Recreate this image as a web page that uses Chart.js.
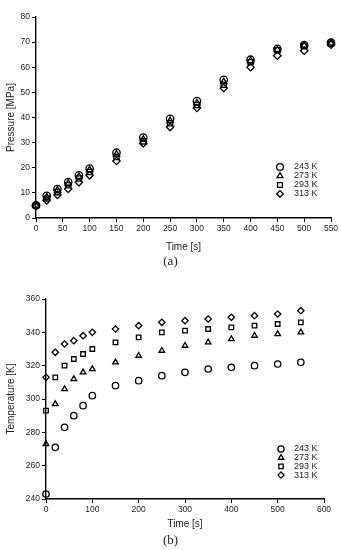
<!DOCTYPE html>
<html>
<head>
<meta charset="utf-8">
<script src="https://cdn.jsdelivr.net/npm/chart.js@4.4.0/dist/chart.umd.min.js"></script>
<style>
  body { margin: 0; background: #fff; width: 341px; height: 550px; position: relative; overflow: hidden; }
  .box { position: absolute; left: 0; width: 341px; }
  .cap { position: absolute; left: 0; width: 341px; text-align: center; font-family: "Liberation Serif", serif; font-size: 13px; color: #222; }
</style>
</head>
<body>
<div class="box" style="top:0;height:255px"><canvas id="chartA"></canvas></div>
<div class="cap" style="top:253px">(a)</div>
<div class="box" style="top:280px;height:252px"><canvas id="chartB"></canvas></div>
<div class="cap" style="top:532px">(b)</div>
<script>
// time points [s]
var time = [0, 20, 40, 60, 80, 100, 150, 200, 250, 300, 350, 400, 450, 500, 550];
var labels = ['243 K', '273 K', '293 K', '313 K'];
var styles = ['circle', 'triangle', 'rect', 'rectRot'];

// pressure [MPa]
var p243 = [5, 8.8, 11.5, 14.3, 17.0, 19.7, 26.0, 32.0, 39.5, 46.5, 55.0, 63.0, 67.3, 68.8, 69.8];
var p273 = [5, 8.3, 11.0, 13.8, 16.5, 19.2, 25.4, 31.3, 38.7, 45.8, 54.2, 62.6, 67.0, 68.6, 69.6];
var p293 = [5, 7.8, 10.3, 13.0, 15.7, 18.3, 24.3, 30.5, 37.7, 45.0, 53.0, 62.0, 66.8, 68.6, 69.4];
var p313 = [5, 7.0, 9.2, 11.6, 14.2, 17.0, 22.7, 29.7, 36.2, 43.8, 51.7, 60.0, 64.6, 66.6, 69.0];

// temperature [K]
var t243 = [243, 271, 283, 290, 296, 302, 308, 311, 314, 316, 318, 319, 320, 321, 322];
var t273 = [273, 297, 306, 312, 316, 318, 322, 326, 329, 332, 334, 336, 338, 339, 340];
var t293 = [293, 313, 320, 324, 327, 330, 334, 337, 340, 341, 342, 343, 344, 345, 346];
var t313 = [313, 328, 333, 335, 338, 340, 342, 344, 346, 347, 348, 349, 350, 351, 353];

function pts(vals) {
  var out = [];
  for (var i = 0; i < time.length; i++) out.push({x: time[i], y: vals[i]});
  return out;
}

function sets(series, r) {
  var ds = [];
  for (var i = 0; i < series.length; i++) {
    ds.push({
      label: labels[i],
      data: pts(series[i]),
      pointStyle: styles[i],
      pointRadius: r,
      pointBorderWidth: 1.3,
      pointBorderColor: '#000',
      pointBackgroundColor: 'rgba(255,255,255,0)',
      showLine: false,
      clip: false
    });
  }
  return ds;
}

// legend drawn inside plot area
var boxLegend = {
  id: 'boxLegend',
  afterDatasetsDraw: function(chart, args, o) {
    var ctx = chart.ctx;
    ctx.save();
    ctx.font = '9px "Liberation Sans", Arial, sans-serif';
    ctx.textBaseline = 'middle';
    chart.data.datasets.forEach(function(ds, i) {
      var y = o.y + i * o.gap;
      ctx.strokeStyle = '#000';
      ctx.fillStyle = '#fff';
      ctx.lineWidth = 1.3;
      Chart.helpers.drawPoint(ctx, {pointStyle: ds.pointStyle, radius: o.r, rotation: 0, borderWidth: 1.3}, o.x, y);
      ctx.fillStyle = '#222';
      ctx.fillText(ds.label, o.tx, y);
    });
    ctx.restore();
  }
};

function axis(min, max, step, title, w, isY) {
  return {
    type: 'linear',
    min: min, max: max,
    afterFit: function(s) { if (isY) s.width = w; else s.height = w; },
    ticks: { stepSize: step, color: '#222', font: {size: 8.5, family: '"Liberation Sans", Arial'}, padding: 2, maxRotation: 0 },
    grid: { display: true, drawOnChartArea: false, drawTicks: true, tickLength: 4, color: '#000', tickWidth: 1 },
    border: { display: true, color: '#000', width: 1.4 },
    title: { display: true, text: title, color: '#222', font: {size: 10, family: '"Liberation Sans", Arial'}, padding: {top: 5, bottom: 2} }
  };
}

function make(id, series, r, xs, ys, pad, lg) {
  new Chart(document.getElementById(id), {
    type: 'scatter',
    data: { datasets: sets(series, r) },
    options: {
      responsive: true,
      maintainAspectRatio: false,
      animation: false,
      layout: { padding: pad },
      plugins: { legend: { display: false }, tooltip: { enabled: false }, boxLegend: lg },
      scales: { x: xs, y: ys }
    },
    plugins: [boxLegend]
  });
}

make('chartA', [p243, p273, p293, p313], 3.7,
  axis(0, 550, 50, 'Time [s]', 37, false),
  axis(0, 80, 10, 'Pressure [MPa]', 36, true),
  {top: 17, right: 10, left: 0, bottom: 0},
  {x: 280, tx: 294, y: 167, gap: 9, r: 3.4});

make('chartB', [t243, t273, t293, t313], 3.2,
  axis(0, 600, 100, 'Time [s]', 33, false),
  axis(240, 360, 20, 'Temperature [K]', 46, true),
  {top: 19, right: 17, left: 0, bottom: 0},
  {x: 281, tx: 294, y: 169, gap: 8.7, r: 3.1});
</script>
</body>
</html>
